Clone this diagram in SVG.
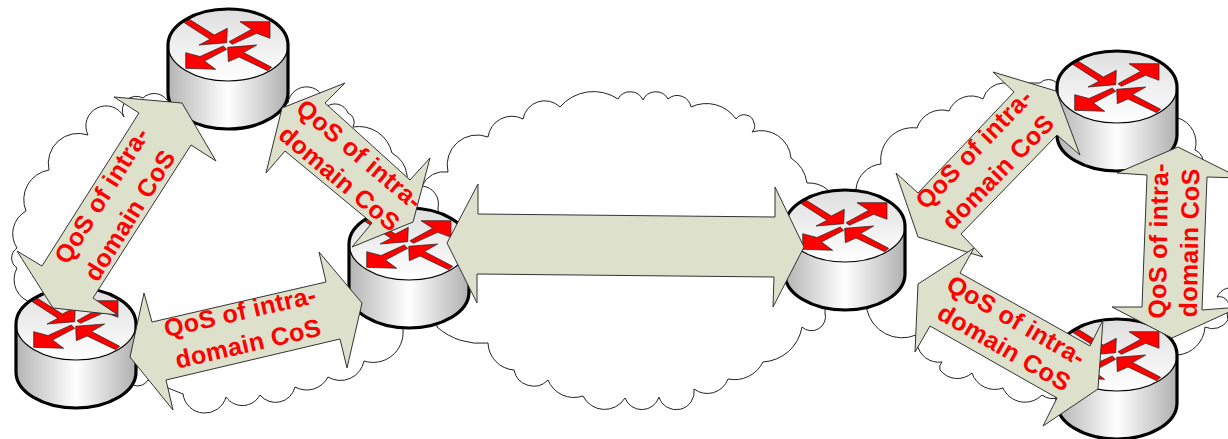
<svg xmlns="http://www.w3.org/2000/svg" xmlns:xlink="http://www.w3.org/1999/xlink" width="1228" height="439" viewBox="0 0 1228 439">
<style>
.cloud{fill:#fff;stroke:#222;stroke-width:1}
.link{fill:#dde1cc;stroke:#333;stroke-width:1}
.lbl{font-family:"Liberation Sans",Arial,sans-serif;font-weight:700;font-size:25px;letter-spacing:.3px;fill:#f00;text-anchor:middle}
.ar{fill:#f00;stroke:#222;stroke-width:.7}
.outer{fill:none;stroke:#000;stroke-width:3.2}
</style>
<defs>
<linearGradient id="side" x1="0" x2="1" y1="0" y2="0"><stop offset="0" stop-color="#b4b4b4"/><stop offset=".5" stop-color="#fff"/><stop offset="1" stop-color="#b0b0b0"/></linearGradient>
<linearGradient id="top" x1="0" x2="0" y1="0" y2="1"><stop offset="0" stop-color="#dedede"/><stop offset="1" stop-color="#fff"/></linearGradient>
<g id="router">
<path d="M-60,0A60,36 0 0 1 60,0V48A60,36 0 0 1 -60,48Z" fill="url(#side)"/>
<ellipse rx="60" ry="36" fill="url(#top)" stroke="#000" stroke-width="1.2"/>
<polygon class="ar" points="-1.3,-2.3 -0.7,-16.7 -13.7,-10 -38.7,-25.7 -43.7,-22.3 -18,-5.7 -29,0"/>
<polygon class="ar" points="1,-3.3 4.3,-0.7 28.7,-11.7 42,-6.7 42,-23.3 12,-23.3 23.7,-15.7"/>
<polygon class="ar" points="-4.7,1 -1.3,4.3 -23.5,16 -12.3,24.3 -42.3,23.3 -42.3,7.7 -28,11.5"/>
<polygon class="ar" points="-0.3,2.3 28.7,0 15.5,7.5 43.7,22.3 39.7,25.7 11,12 0.3,16.7"/>
<path class="outer" d="M-60,0A60,36 0 0 1 60,0V48A60,36 0 0 1 -60,48Z"/>
</g>
</defs>
<g id="clouds">
<path id="cloud-left" class="cloud" d="M124,117A20,20 0 0 0 88,135A30,30 0 0 0 49,170A30,30 0 0 0 26,211A26,26 0 0 0 17,248A12,12 0 0 0 17,268A24,24 0 0 0 33,303L60,340L133,385A12,12 0 0 0 148,380L183,394A22,22 0 0 0 226,397A20,20 0 0 0 260,395A20,20 0 0 0 295,387A24,24 0 0 0 328,377A24,24 0 0 0 364,361A30,30 0 0 0 403,330L410,240L407,175A30,30 0 0 0 392,153A34,34 0 0 0 353,127A10,10 0 0 0 348,113A14,14 0 0 0 325,108A14,14 0 0 0 288,103L167,100A16,16 0 0 0 143,98A14,14 0 0 0 124,117Z"/>
<path id="cloud-right" class="cloud" d="M856,189A28,28 0 0 1 881,164A32,32 0 0 1 917,128A26,26 0 0 1 949,111A24,24 0 0 1 983,99A22,22 0 0 1 1003,83L1040,83A12,12 0 0 1 1057,83L1178,118A26,26 0 0 1 1195,150A14,14 0 0 1 1203,160L1205,177A24,24 0 0 1 1240,190L1240,290A16,16 0 0 0 1217,297A10,10 0 0 1 1227,313L1228,320A18,18 0 0 1 1205,327A30,30 0 0 1 1178,355L1057,398A18,18 0 0 1 1042,395A24,24 0 0 1 1003,388A24,24 0 0 1 972,373A22,22 0 0 1 940,370A8,8 0 0 1 942,362A22,22 0 0 1 917,343L916,335A36,36 0 0 1 867,310Z"/>
<path id="cloud-middle" class="cloud" d="M488,137A24,24 0 0 1 523,119A22,22 0 0 1 560,107A44,44 0 0 1 618,99A14,14 0 0 1 643,100A14,14 0 0 1 668,99A14,14 0 0 1 691,107A36,36 0 0 1 736,119A10,10 0 0 1 754,123A8,8 0 0 1 752,132A30,30 0 0 1 791,158A36,36 0 0 1 807,183A30,30 0 0 1 828,190L825,313A14,14 0 0 1 802,327A42,42 0 0 1 763,362A32,32 0 0 1 728,379A22,22 0 0 1 694,389A18,18 0 0 1 659,397A18,18 0 0 1 625,398A24,24 0 0 1 583,396A28,28 0 0 1 548,380A20,20 0 0 1 514,370A28,28 0 0 1 488,343A66,66 0 0 1 437,327L440,250L438,208A18,18 0 0 0 422,186A24,24 0 0 1 448,172A30,30 0 0 1 488,137Z"/>
</g>
<g id="router-1"><use href="#router" x="228" y="45"/></g>
<g id="router-2"><use href="#router" x="409" y="244"/></g>
<g id="router-3"><use href="#router" x="76" y="324"/></g>
<g id="router-4"><use href="#router" x="845" y="226"/></g>
<g id="router-5"><use href="#router" x="1117" y="87"/></g>
<g id="router-6"><use href="#router" x="1117" y="355"/></g>
<g id="connectors">
<g id="link-1-3"><polygon class="link" points="114,97 182,103 216,161 191,145 93,298 118,315 53,308 17,251 42,266 139,113"/>
<text class="lbl" transform="translate(109,200) rotate(-58)">QoS of intra-</text>
<text class="lbl" transform="translate(137,220) rotate(-58)">domain CoS</text></g>
<g id="link-1-2"><polygon class="link" points="345,83 325,103 410,180 430,158 413,222 352,247 372,223 285,151 266,173 282,108"/>
<text class="lbl" transform="translate(354,161) rotate(40)">QoS of intra-</text>
<text class="lbl" transform="translate(334,185) rotate(40)">domain CoS</text></g>
<g id="link-3-2"><polygon class="link" points="144,293 152,322 326,282 319,252 362,303 347,368 340,339 166,380 173,410 130,357"/>
<text class="lbl" transform="translate(242,320) rotate(-13)">QoS of intra-</text>
<text class="lbl" transform="translate(250,352) rotate(-13)">domain CoS</text></g>
<g id="link-2-4"><polygon class="link" points="447,243 478,184 478,214 775,217 775,187 804,247 773,307 774,277 477,274 477,303"/></g>
<g id="link-4-5"><polygon class="link" points="993,72 1056,91 1080,155 1057,135 961,234 983,257 918,237 896,173 918,193 1014,92"/>
<text class="lbl" transform="translate(980,155) rotate(-46)">QoS of intra-</text>
<text class="lbl" transform="translate(1004,178) rotate(-46)">domain CoS</text></g>
<g id="link-4-6"><polygon class="link" points="974,248 960,273 1090,346 1103,320 1098,389 1043,426 1057,398 930,326 915,352 918,284"/>
<text class="lbl" transform="translate(1012,328) rotate(30)">QoS of intra-</text>
<text class="lbl" transform="translate(1000,355) rotate(30)">domain CoS</text></g>
<g id="link-5-6"><polygon class="link" points="1178,147 1240,178 1207,177 1202,310 1240,307 1172,338 1112,307 1142,307 1147,175 1117,173"/>
<text class="lbl" transform="translate(1167,241) rotate(-89)">QoS of intra-</text>
<text class="lbl" transform="translate(1198,243) rotate(-89)">domain CoS</text></g>
</g>
</svg>
